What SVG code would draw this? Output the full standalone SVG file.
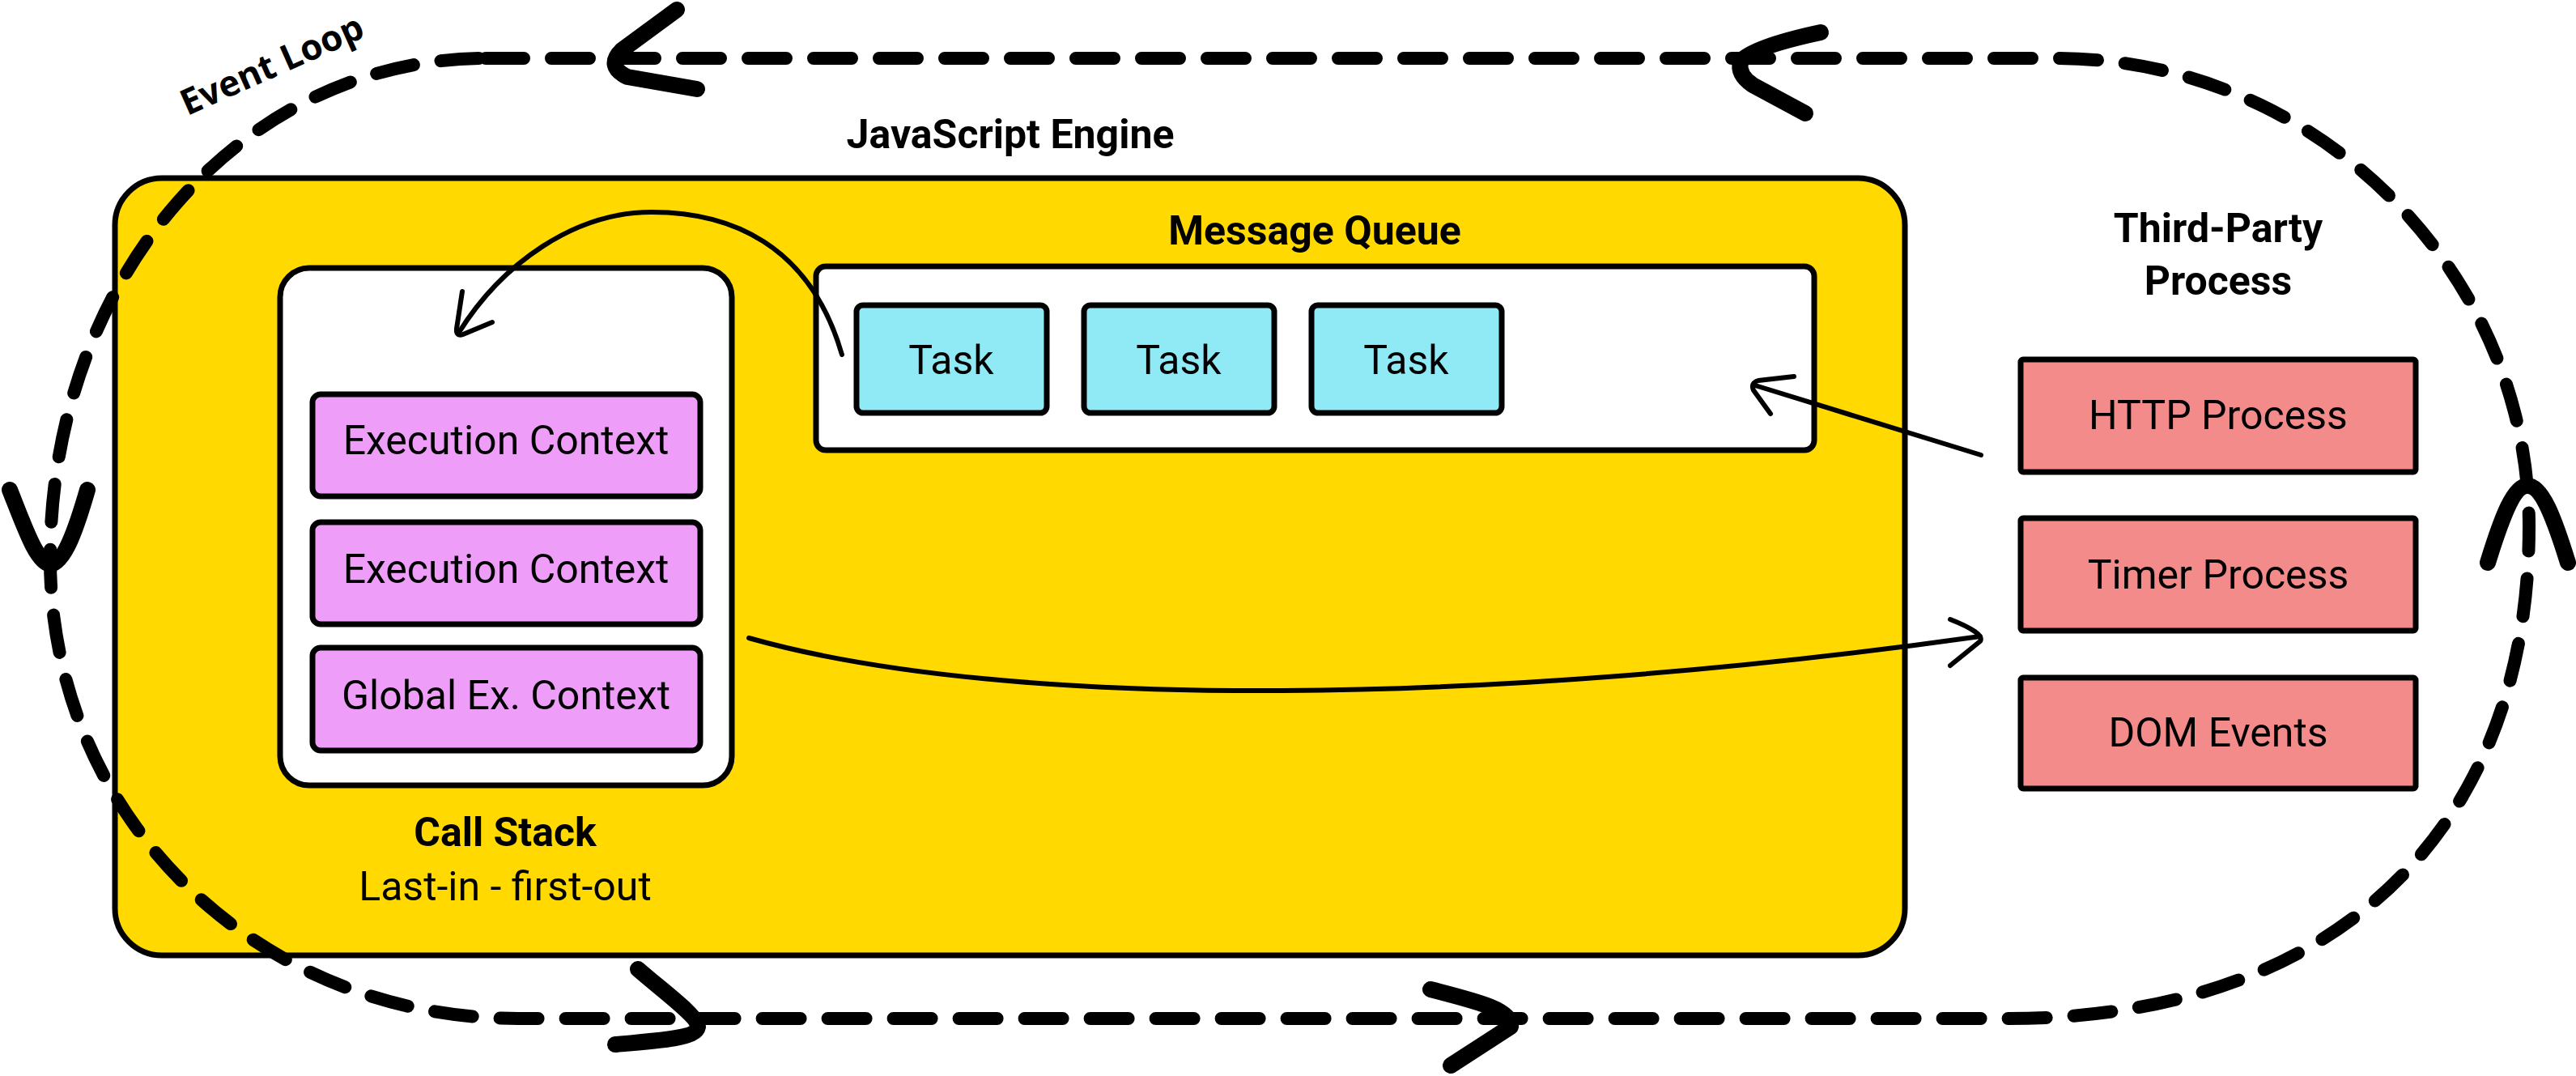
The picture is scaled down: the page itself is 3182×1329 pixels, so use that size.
<svg xmlns="http://www.w3.org/2000/svg" width="3182" height="1329" viewBox="0 0 3182 1329">
<style>
  text { font-family: Roboto, "Liberation Sans", sans-serif; fill: #000; }
  .lbl { font-size: 50px; text-anchor: middle; }
  .bold { font-weight: 700; }
  .box { stroke: #000; stroke-width: 7; }
  .yellow { fill: #FFD900; }
  .white { fill: #FFFFFF; }
  .ec { fill: #EE9EF8; }
  .task { fill: #8FEAF6; }
  .proc { fill: #F38B8B; }
  .loop { fill: none; stroke: #000; stroke-width: 16; stroke-linecap: round; stroke-dasharray: 47 34; }
  .head { fill: none; stroke: #000; stroke-width: 20; stroke-linecap: round; stroke-linejoin: round; }
  .thin { fill: none; stroke: #000; stroke-width: 6; stroke-linecap: round; stroke-linejoin: round; }
</style>

<g id="javascript-engine">
  <rect class="box yellow" x="142" y="220" width="2211" height="960" rx="58" ry="58"/>
  <text class="lbl bold" x="1248" y="183">JavaScript Engine</text>
</g>

<g id="call-stack">
  <rect class="box white" x="346" y="331" width="558" height="639" rx="36" ry="36"/>
  <text class="lbl bold" x="624" y="1045">Call Stack</text>
  <text class="lbl" x="624" y="1112">Last-in - first-out</text>
</g>

<g id="execution-context-1">
  <rect class="box ec" x="386" y="487" width="479" height="126" rx="10" ry="10"/>
  <text class="lbl" x="625" y="561">Execution Context</text>
</g>
<g id="execution-context-2">
  <rect class="box ec" x="386" y="645" width="479" height="126" rx="10" ry="10"/>
  <text class="lbl" x="625" y="720">Execution Context</text>
</g>
<g id="global-execution-context">
  <rect class="box ec" x="386" y="800" width="479" height="127" rx="10" ry="10"/>
  <text class="lbl" x="625" y="876">Global Ex. Context</text>
</g>

<g id="message-queue">
  <rect class="box white" x="1008" y="329" width="1233" height="227" rx="12" ry="12"/>
  <text class="lbl bold" x="1624" y="302">Message Queue</text>
</g>
<g id="task-1">
  <rect class="box task" x="1058" y="377" width="235" height="133" rx="8" ry="8"/>
  <text class="lbl" x="1175" y="462">Task</text>
</g>
<g id="task-2">
  <rect class="box task" x="1339" y="377" width="235" height="133" rx="8" ry="8"/>
  <text class="lbl" x="1456" y="462">Task</text>
</g>
<g id="task-3">
  <rect class="box task" x="1620" y="377" width="235" height="133" rx="8" ry="8"/>
  <text class="lbl" x="1737" y="462">Task</text>
</g>

<g id="third-party-process">
  <text class="lbl bold" x="2740" y="299">Third-Party</text>
  <text class="lbl bold" x="2740" y="364">Process</text>
</g>
<g id="http-process">
  <rect class="box proc" x="2496" y="444" width="488" height="139" rx="3" ry="3"/>
  <text class="lbl" x="2740" y="530">HTTP Process</text>
</g>
<g id="timer-process">
  <rect class="box proc" x="2496" y="640" width="488" height="139" rx="3" ry="3"/>
  <text class="lbl" x="2740" y="727">Timer Process</text>
</g>
<g id="dom-events">
  <rect class="box proc" x="2496" y="837" width="488" height="137" rx="3" ry="3"/>
  <text class="lbl" x="2740" y="922">DOM Events</text>
</g>

<g id="event-loop-label">
  <text transform="translate(342,94) rotate(-24)" text-anchor="middle" style="font-family: 'Open Sans', 'Noto Sans', sans-serif; font-weight: 700; font-size: 44px;">Event Loop</text>
</g>

<g id="connectors">
  <!-- event loop -->
  <path class="loop" d="M600,72 L2540,72 C2861,72 3124,335 3124,650 C3124,1031 2878,1258 2480,1258 L640,1258 C316,1258 62,1008 62,690 C62,344 299,72 600,72 Z"/>
  <!-- loop arrowheads -->
  <path class="head" d="M836,12 L768,62 Q748,82 775,95 L861,110"/>
  <path class="head" d="M2249,40 Q2165,58 2150,76 Q2146,92 2165,105 L2230,140"/>
  <path class="head" d="M3073,695 C3090,640 3105,600 3122,600 C3140,600 3155,640 3172,695"/>
  <path class="head" d="M12,605 C30,650 45,695 62,697 C80,695 95,650 108,605"/>
  <path class="head" d="M788,1197 C820,1225 862,1255 862,1268 C860,1282 820,1285 760,1290"/>
  <path class="head" d="M1767,1222 C1830,1238 1868,1248 1866,1268 L1792,1316"/>
  <!-- task to call stack -->
  <path class="thin" d="M1040,438 C1000,300 900,262 805,262 C710,262 620,325 566,412"/>
  <path class="thin" d="M571,360 L564,406 Q563,416 572,413 L608,398"/>
  <!-- HTTP to message queue -->
  <path class="thin" d="M2447,562 L2168,476"/>
  <path class="thin" d="M2216,465 L2172,470 Q2162,473 2166,482 L2187,511"/>
  <!-- call stack to timer -->
  <path class="thin" d="M925,788 C1250,880 1850,870 2446,786"/>
  <path class="thin" d="M2409,765 Q2452,782 2446,792 L2409,822"/>
</g>
</svg>
